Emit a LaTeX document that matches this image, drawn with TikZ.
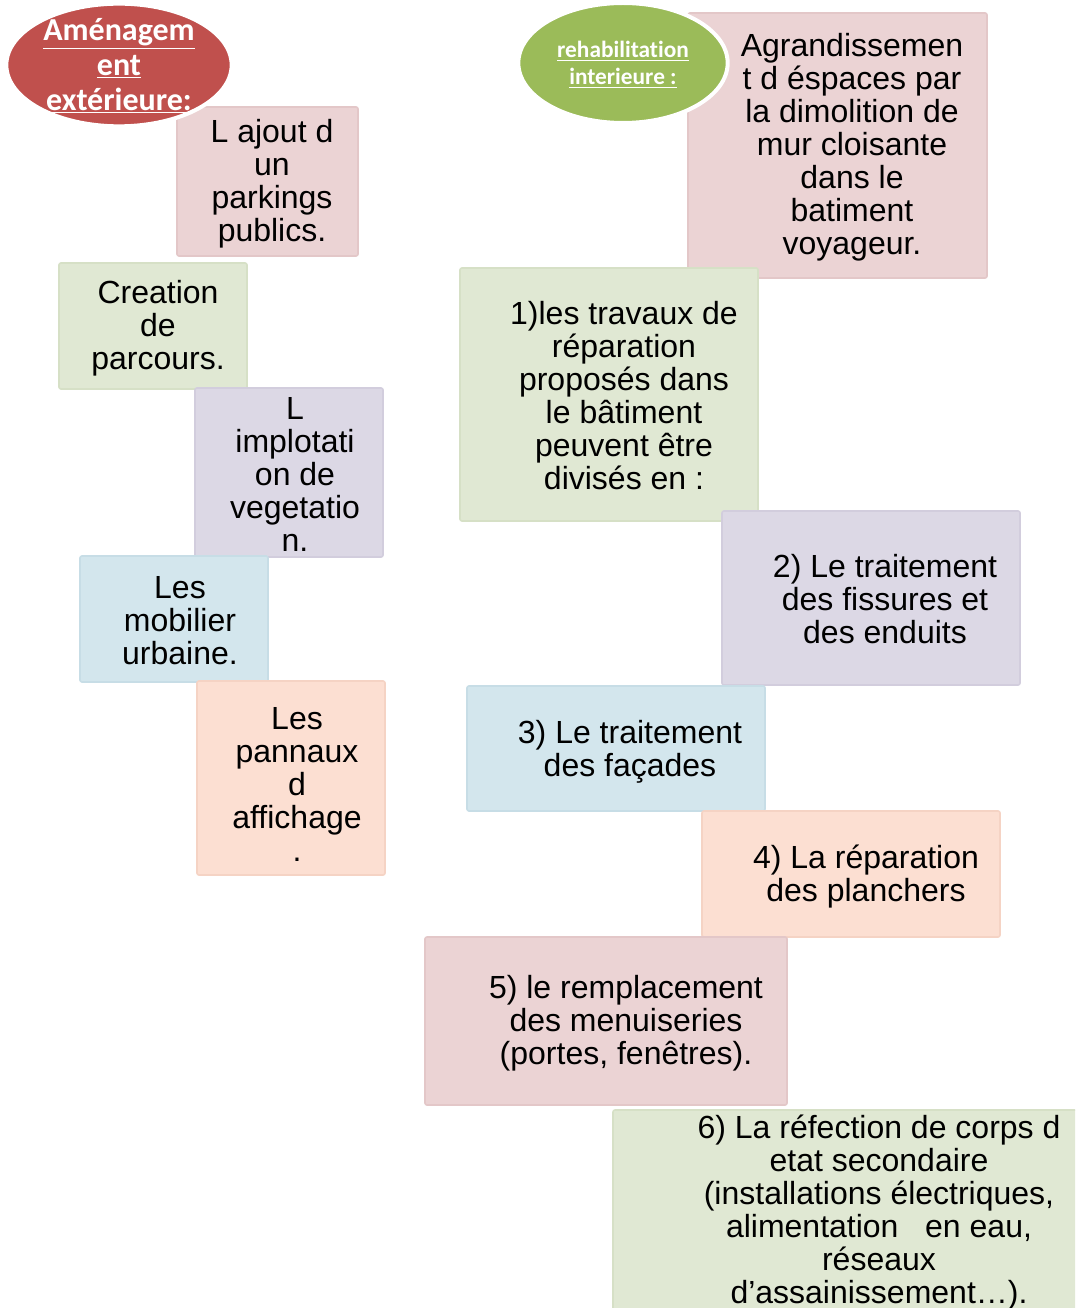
\documentclass[tikz,border=0pt]{standalone}
\usepackage{fontspec}
\setmainfont{Liberation Sans}
\newfontfamily\hdfont[Ligatures={NoCommon,NoRare,NoContextual}]{Carlito}
\usetikzlibrary{shapes.geometric}
\definecolor{pinkbox}{HTML}{EBD3D4}
\definecolor{pinkedge}{HTML}{E3C7C8}
\definecolor{greenbox}{HTML}{E0E8D3}
\definecolor{greenedge}{HTML}{D6E0C6}
\definecolor{purplebox}{HTML}{DCD8E5}
\definecolor{purpleedge}{HTML}{D2CDDD}
\definecolor{bluebox}{HTML}{D3E6ED}
\definecolor{blueedge}{HTML}{C7DDE6}
\definecolor{peachbox}{HTML}{FCDFD2}
\definecolor{peachedge}{HTML}{F5D3C4}
\definecolor{redell}{HTML}{C0504D}
\definecolor{greenell}{HTML}{9BBB59}
\tikzset{
  boxshape/.style={rectangle, rounded corners=1.5pt, line width=1.2pt, inner sep=0pt},
  pinkb/.style={boxshape, fill=pinkbox, draw=pinkedge},
  greenb/.style={boxshape, fill=greenbox, draw=greenedge},
  purpleb/.style={boxshape, fill=purplebox, draw=purpleedge},
  blueb/.style={boxshape, fill=bluebox, draw=blueedge},
  peachb/.style={boxshape, fill=peachbox, draw=peachedge},
  boxtext/.style={inner sep=0pt, align=center, font=\fontsize{24}{24.75}\selectfont},
  headell/.style={ellipse, draw=white, line width=3pt, inner sep=0pt},
}
\begin{document}
\begin{tikzpicture}[x=0.75pt,y=-0.75pt]
\clip (0,0) rectangle (1075,1308);
\fill[white] (0,0) rectangle (1075,1308);
% left column
\node[pinkb, minimum width=135.75pt, minimum height=111.75pt] (b1) at (267.5,181.5) {};
\node[boxtext] (t1) at (272,184) {L ajout d\\un\\parkings\\publics.};
\node[greenb, minimum width=141pt, minimum height=94.5pt] (b2) at (153,326) {};
\node[boxtext] (t2) at (158,328.5) {Creation\\de\\parcours.};
\node[purpleb, minimum width=141pt, minimum height=126.75pt] (b3) at (289,472.5) {};
\node[boxtext] (t3) at (295,474) {L\\implotati\\on de\\vegetatio\\n.};
\node[blueb, minimum width=141pt, minimum height=94.5pt] (b4) at (174,619) {};
\node[boxtext] (t4) at (180,621) {Les\\mobilier\\urbaine.};
\node[peachb, minimum width=141pt, minimum height=145.5pt] (b5) at (291,778) {};
\node[boxtext] (t5) at (297,784.5) {Les\\pannaux\\d\\affichage\\.};
% right column
\node[pinkb, minimum width=224.25pt, minimum height=198.75pt] (r1) at (837.5,145.5) {};
\node[boxtext] (u1) at (852,147.5) {Agrandissemen\\t d éspaces par\\la dimolition de\\mur cloisante\\dans le\\batiment\\voyageur.};
\node[greenb, minimum width=223.5pt, minimum height=189.75pt] (r2) at (609,394.5) {};
\node[boxtext] (u2) at (624,395.5) {1)les travaux de\\réparation\\proposés dans\\le bâtiment\\peuvent être\\divisés en :};
\node[purpleb, minimum width=223.5pt, minimum height=130.5pt] (r3) at (871,598) {};
\node[boxtext] (u3) at (885,599) {2) Le traitement\\des fissures et\\des enduits};
\node[blueb, minimum width=223.5pt, minimum height=93.75pt] (r4) at (616,748.5) {};
\node[boxtext] (u4) at (630,751.5) {3) Le traitement\\des façades};
\node[peachb, minimum width=223.5pt, minimum height=94.5pt] (r5) at (851,874) {};
\node[boxtext] (u5) at (866,876.5) {4) La réparation\\des planchers};
\node[pinkb, minimum width=271.5pt, minimum height=126pt] (r6) at (606,1021) {};
\node[boxtext] (u6) at (626,1023.5) {5) le remplacement\\des menuiseries\\(portes, fenêtres).};
\node[greenb, minimum width=350.25pt, minimum height=153.75pt] (r7) at (846.5,1212.5) {};
\node[boxtext] (u7) at (879,1212.5) {6) La réfection de corps d\\etat secondaire\\(installations électriques,\\alimentation\ \ \ en eau,\\réseaux\\d’assainissement…).};
% header ellipses
\node[headell, fill=redell, minimum width=169pt, minimum height=92pt] (e1) at (119,65) {};
\node[inner sep=0pt, align=center, text=white, font=\hdfont\bfseries\fontsize{24}{26.25}\selectfont] (h1) at (119,66) {\underline{Aménagem}\\\underline{ent}\\\underline{extérieure:}};
\node[headell, fill=greenell, minimum width=157pt, minimum height=90pt] (e2) at (623,63) {};
\node[inner sep=0pt, align=center, text=white, font=\hdfont\bfseries\fontsize{17.5}{20.25}\selectfont] (h2) at (623,64.5) {\underline{rehabilitation}\\\underline{interieure :}};
\end{tikzpicture}
\end{document}
